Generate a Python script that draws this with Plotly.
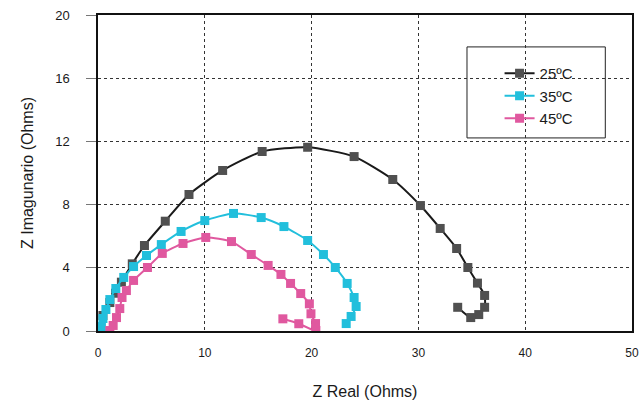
import plotly.graph_objects as go

# 25 ºC
x25 = [0.46, 1.11, 1.64, 2.19, 3.21, 4.35, 6.30, 8.52, 11.67, 15.37, 19.63, 23.98, 27.6, 30.19, 32.04, 33.58, 34.63, 35.53, 36.2, 36.2, 35.65, 34.9, 33.68]
y25 = [0.98, 1.80, 2.39, 3.09, 4.25, 5.41, 6.95, 8.64, 10.16, 11.36, 11.63, 11.04, 9.59, 7.94, 6.49, 5.22, 4.02, 3.03, 2.25, 1.5, 1.04, 0.85, 1.5]
# 35 ºC
x35 = [0.32, 0.46, 0.74, 1.11, 1.67, 2.41, 3.33, 4.54, 5.93, 7.78, 10.0, 12.69, 15.28, 17.41, 19.63, 21.11, 22.22, 23.33, 23.98, 24.17, 23.70, 23.24]
y35 = [0.28, 0.79, 1.36, 1.99, 2.69, 3.39, 4.08, 4.78, 5.47, 6.30, 6.99, 7.44, 7.18, 6.61, 5.73, 4.84, 4.02, 3.01, 2.12, 1.55, 0.92, 0.47]
# 45 ºC
x45 = [1.11, 1.42, 1.73, 2.04, 2.25, 2.66, 3.33, 4.63, 6.02, 7.96, 10.09, 12.5, 14.35, 15.93, 17.13, 18.03, 18.98, 19.79, 19.94, 20.37, 20.40, 18.8, 17.31]
y45 = [0.03, 0.35, 0.85, 1.42, 2.12, 2.56, 3.20, 4.02, 4.91, 5.54, 5.92, 5.66, 4.84, 4.15, 3.58, 3.01, 2.37, 1.72, 1.09, 0.47, 0.03, 0.46, 0.77]

names = ["25ºC", "35ºC", "45ºC"]
marker_colors = ["#505050", "#22bfdc", "#e0589f"]
line_colors = ["#1a1a1a", "#22bfdc", "#e0589f"]

x_ticks = [0, 10, 20, 30, 40, 50]
y_ticks = [0, 4, 8, 12, 16, 20]

fig = go.Figure()
for xs, ys, n, mc, lc in zip([x25, x35, x45], [y25, y35, y45], names, marker_colors, line_colors):
    fig.add_trace(go.Scatter(
        x=xs, y=ys, name=n, mode="lines+markers",
        line=dict(color=lc, width=2, shape="spline", smoothing=0.6),
        marker=dict(symbol="square", size=9, color=mc, line=dict(color=mc, width=0)),
    ))

fig.add_shape(type="rect", xref="paper", yref="paper",
              x0=0.691, x1=0.950, y0=0.611, y1=0.899,
              fillcolor="white", line=dict(color="#222", width=1), layer="between")

font_family = "Liberation Sans, Arial, sans-serif"
fig.update_layout(
    width=644, height=406,
    margin=dict(l=98, r=5, t=15, b=75),
    paper_bgcolor="white", plot_bgcolor="white",
    font=dict(family=font_family, color="#1a1a1a"),
    showlegend=True,
    legend=dict(x=0.752, y=0.867, xanchor="left", yanchor="top",
                bgcolor="rgba(0,0,0,0)", borderwidth=0,
                font=dict(size=15, family=font_family, color="#1a1a1a"),
                itemwidth=30, tracegroupgap=0),
    xaxis=dict(range=[0, 50], tickvals=x_ticks, showgrid=True, griddash="dot",
               gridcolor="#333", gridwidth=1, zeroline=False,
               showline=True, linecolor="#111", linewidth=1.5, mirror=True,
               ticks="", ticklabelstandoff=10,
               tickfont=dict(size=12, color="#1a1a1a"),
               title=dict(text="Z Real (Ohms)", font=dict(size=16, color="#1a1a1a"), standoff=27)),
    yaxis=dict(range=[0, 20], tickvals=y_ticks, showgrid=True, griddash="dot",
               gridcolor="#333", gridwidth=1, zeroline=False,
               showline=True, linecolor="#111", linewidth=1.5, mirror=True,
               ticks="outside", ticklen=10, tickcolor="#777", tickwidth=1,
               ticklabelstandoff=14,
               tickfont=dict(size=13, color="#1a1a1a"),
               title=dict(text="Z Imagunario (Ohms)", font=dict(size=16, color="#1a1a1a"), standoff=18)),
)

fig.write_html("out.html")
